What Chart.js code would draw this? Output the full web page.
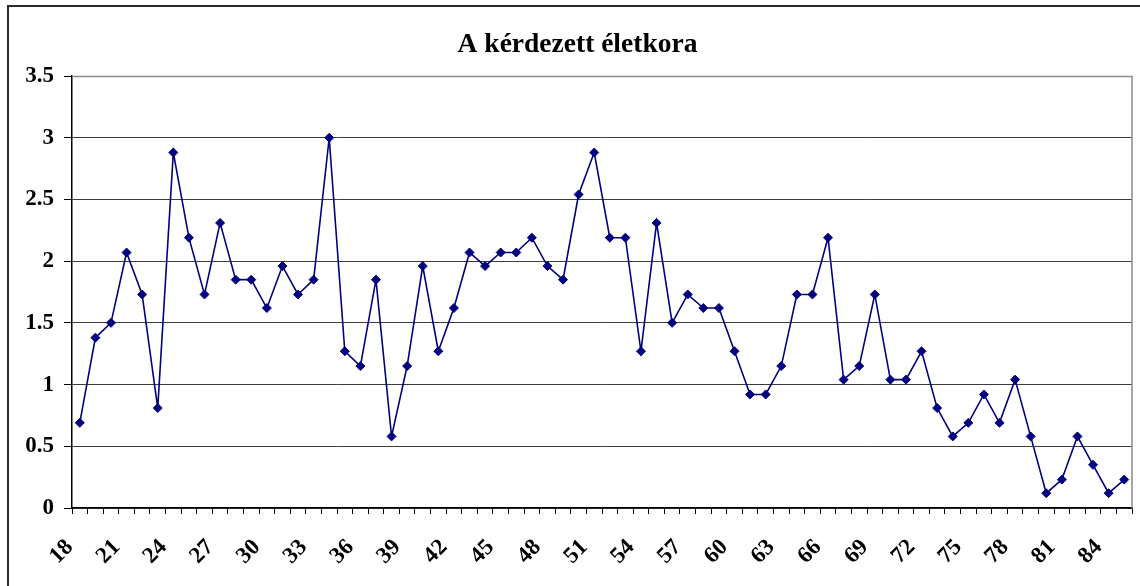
<!DOCTYPE html>
<html>
<head>
<meta charset="utf-8">
<script src="https://cdn.jsdelivr.net/npm/chart.js@4/dist/chart.umd.min.js"></script>
<style>
  html, body { margin: 0; padding: 0; background: #fff; overflow: hidden; }
  #wrap { position: relative; width: 1140px; height: 586px; overflow: hidden; }
  #frame { position: absolute; left: 7px; top: 5px; width: 1300px; height: 800px; border: 2px solid #2b2b2b; box-sizing: border-box; }
  canvas { position: absolute; left: 0; top: 0; }
</style>
</head>
<body>
<div id="wrap">
  <div id="frame"></div>
  <canvas id="c" width="1140" height="586"></canvas>
</div>
<script>
const chartTitle = 'A kérdezett életkora';

const ages = [18,19,20,21,22,23,24,25,26,27,28,29,30,31,32,33,34,35,36,37,38,39,40,41,42,43,44,45,46,47,48,49,50,51,
              52,53,54,55,56,57,58,59,60,61,62,63,64,65,66,67,68,69,70,71,72,73,74,75,76,77,78,79,80,81,82,83,84,85];

const percents = [0.69,1.38,1.50,2.07,1.73,0.81,2.88,2.19,1.73,2.31,1.85,1.85,1.62,1.96,1.73,1.85,3.00,1.27,1.15,1.85,0.58,1.15,1.96,1.27,1.62,2.07,1.96,2.07,2.07,2.19,1.96,1.85,2.54,2.88,
                  2.19,2.19,1.27,2.31,1.50,1.73,1.62,1.62,1.27,0.92,0.92,1.15,1.73,1.73,2.19,1.04,1.15,1.73,1.04,1.04,1.27,0.81,0.58,0.69,0.92,0.69,1.04,0.58,0.12,0.23,0.58,0.35,0.12,0.23];

const shownAgeTicks = [18,21,24,27,30,33,36,39,42,45,48,51,54,57,60,63,66,69,72,75,78,81,84];

const yTicks = [0,0.5,1,1.5,2,2.5,3,3.5];

const serif = '"Liberation Serif", "Times New Roman", serif';

const frameLines = {
  id: 'frameLines',
  afterDatasetsDraw(chart) {
    const a = chart.chartArea, ctx = chart.ctx;
    ctx.save();
    ctx.strokeStyle = '#8c8c8c';
    ctx.lineWidth = 1.5;
    ctx.beginPath();
    ctx.moveTo(a.left, a.top + 0.5);
    ctx.lineTo(a.right, a.top + 0.5);
    ctx.lineTo(a.right, a.bottom);
    ctx.stroke();
    ctx.restore();
  }
};

new Chart(document.getElementById('c'), {
  type: 'line',
  data: {
    labels: ages,
    datasets: [{
      data: percents,
      borderColor: '#000080',
      backgroundColor: '#000080',
      borderWidth: 1.6,
      tension: 0,
      pointStyle: 'rectRot',
      pointRadius: 4.5,
      pointBorderWidth: 1,
      pointBackgroundColor: '#000080',
      pointBorderColor: '#000080',
      fill: false
    }]
  },
  options: {
    responsive: false,
    animation: false,
    devicePixelRatio: 1,
    layout: { padding: { left: 23, right: 8, top: 0, bottom: 0 } },
    plugins: {
      legend: { display: false },
      tooltip: { enabled: false },
      title: {
        display: true,
        text: chartTitle,
        color: '#000',
        font: { family: serif, size: 27.5, weight: 'bold', lineHeight: 1.2 },
        padding: { top: 28, bottom: 15 }
      }
    },
    scales: {
      x: {
        type: 'category',
        offset: true,
        grid: { offset: true, drawOnChartArea: false, drawTicks: true, tickLength: 6, tickColor: '#000', lineWidth: 1 },
        border: { color: '#000', width: 1.5 },
        ticks: {
          autoSkip: false,
          maxRotation: 45,
          minRotation: 45,
          padding: 20,
          labelOffset: -10,
          color: '#000',
          font: { family: serif, size: 23, weight: 'bold' },
          callback: function(v) {
            const age = ages[v];
            return shownAgeTicks.includes(age) ? String(age) : '';
          }
        },
        afterFit(scale) { scale.height = 78; scale.paddingLeft = 0; scale.paddingRight = 0; }
      },
      y: {
        min: yTicks[0],
        max: yTicks[yTicks.length - 1],
        afterBuildTicks(scale) { scale.ticks = yTicks.map(v => ({ value: v })); },
        grid: { color: '#3c3c3c', lineWidth: 1, drawTicks: true, tickLength: 8, tickColor: '#000' },
        border: { color: '#000', width: 1.5 },
        ticks: {
          padding: 10,
          color: '#000',
          font: { family: serif, size: 23, weight: 'bold' },
          callback: v => String(v)
        },
        afterFit(scale) { scale.width = 49; scale.paddingTop = 0; scale.paddingBottom = 0; }
      }
    }
  },
  plugins: [frameLines]
});
</script>
</body>
</html>
